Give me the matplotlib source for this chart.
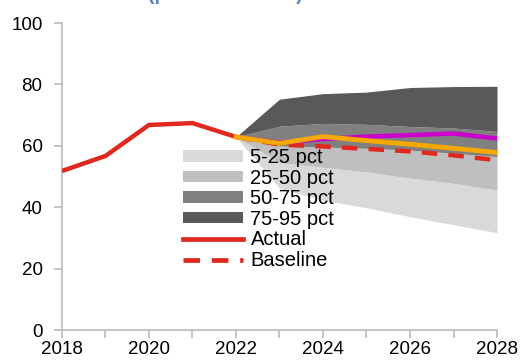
import matplotlib
matplotlib.use("Agg")
import matplotlib.pyplot as plt
from matplotlib.patches import Patch
from matplotlib.lines import Line2D

plt.rcParams['font.family'] = ['Liberation Sans', 'DejaVu Sans']

# Historical series
years_actual = [2018, 2019, 2020, 2021, 2022]
actual = [51.8, 56.7, 66.8, 67.4, 62.9]

# Projection horizon
years_fc = [2022, 2023, 2024, 2025, 2026, 2027, 2028]
baseline = [62.9, 60.4, 59.8, 59.0, 58.2, 56.9, 55.3]
orange_path = [62.9, 60.8, 63.0, 61.7, 60.5, 59.2, 57.8]
magenta_path = [62.9, 61.0, 62.2, 63.0, 63.5, 64.0, 62.4]

# Fan chart percentiles
p5 = [62.9, 46.2, 42.3, 39.8, 36.9, 34.3, 31.7]
p25 = [62.9, 54.5, 53.0, 51.5, 49.5, 47.8, 45.6]
p50 = [62.9, 60.0, 59.6, 59.2, 58.6, 57.6, 56.5]
p75 = [62.9, 66.4, 67.3, 67.0, 66.3, 65.8, 64.7]
p95 = [62.9, 75.2, 77.0, 77.5, 79.0, 79.3, 79.4]

band_labels = ['5-25 pct', '25-50 pct', '50-75 pct', '75-95 pct']
band_colors = ['#d9d9d9', '#bfbfbf', '#808080', '#595959']

x_ticks = list(range(2018, 2029))
x_labels = [str(y) if y % 2 == 0 else '' for y in x_ticks]
y_ticks = [0, 20, 40, 60, 80, 100]

fig = plt.figure(figsize=(5.23, 3.6), dpi=100)
ax = fig.add_axes([0.1185, 0.0833, 0.8318, 0.8527])

bounds = [p5, p25, p50, p75, p95]
for lo, hi, col in zip(bounds[:-1], bounds[1:], band_colors):
    ax.fill_between(years_fc, lo, hi, color=col, linewidth=0, zorder=1)

ax.plot(years_actual, actual, color='#e0281e', lw=3.2, zorder=4,
        solid_capstyle='butt')
ax.plot(years_fc, baseline, color='#e0281e', lw=3.2, zorder=3,
        dashes=(3.5, 2.5))
ax.plot(years_fc, magenta_path, color='#cc00cc', lw=3.2, zorder=4)
ax.plot(years_fc, orange_path, color='#f5a800', lw=3.5, zorder=5)

ax.set_xlim(2018, 2028)
ax.set_ylim(0, 100)
ax.set_xticks(x_ticks)
ax.set_xticklabels(x_labels)
ax.set_yticks(y_ticks)

for side in ('top', 'right'):
    ax.spines[side].set_visible(False)
for side in ('left', 'bottom'):
    ax.spines[side].set_color('#bfbfbf')
    ax.spines[side].set_linewidth(1.3)
ax.tick_params(axis='both', colors='#bfbfbf', labelcolor='black',
               labelsize=13.5, width=1.3, length=6)
ax.tick_params(axis='x', pad=2)
ax.tick_params(axis='y', pad=8)

handles = [Patch(facecolor=c, edgecolor='none') for c in band_colors]
handles += [Line2D([], [], color='#e0281e', lw=3.4),
            Line2D([], [], color='#e0281e', lw=3.4, dashes=(3.5, 2.5))]
labels = band_labels + ['Actual', 'Baseline']
ax.legend(handles, labels, loc='upper left',
          bbox_to_anchor=(183 / 523, 1 - 148 / 360),
          bbox_transform=fig.transFigure, frameon=False,
          fontsize=14.5, handlelength=3.0, handleheight=0.5,
          labelspacing=0.08, handletextpad=0.35, borderpad=0,
          borderaxespad=0)

fig.text(148 / 523, 1.0, '(percent of GDP)', color='#4f81bd',
         fontsize=14, fontweight='bold', ha='left', va='baseline')

fig.savefig('out.png', dpi=100)
